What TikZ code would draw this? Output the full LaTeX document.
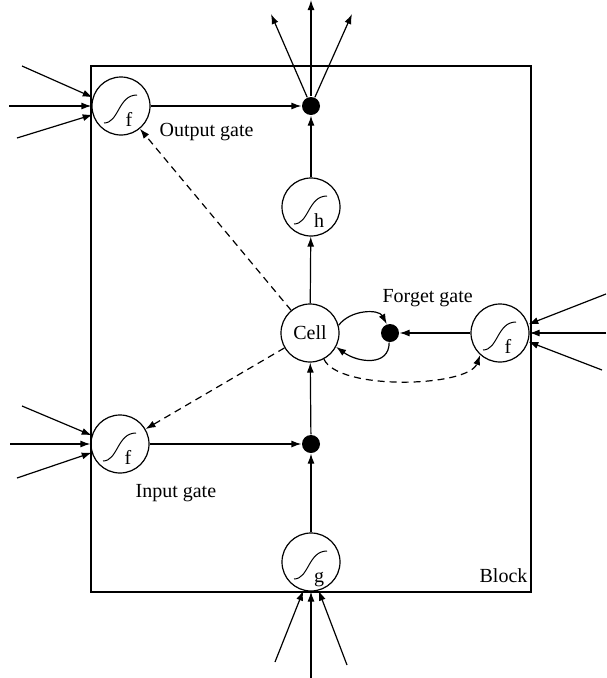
\documentclass[tikz,border=0pt]{standalone}
\usepackage{fontspec}
\setmainfont{Liberation Serif}
\usetikzlibrary{arrows.meta}
\newcommand\sigmark[2]{%
  \draw[line width=1pt] ([shift={(-17,17)}]#1.center) .. controls +(15,0) and +(-19,0) .. ([shift={(16,-11)}]#1.center);
  \node[lbl,anchor=base] at ([shift={(8,20)}]#1.center) {#2};}
\begin{document}
\begin{tikzpicture}[x=1pt,y=-1pt,line width=1.2pt,
  gate/.style={circle,draw,minimum size=58pt,inner sep=0pt},
  jdot/.style={circle,fill=black,minimum size=18pt,inner sep=0pt},
  arr/.style={-{Latex[length=10pt,width=7pt]}},
  dsh/.style={arr,dash pattern=on 7pt off 5pt},
  lbl/.style={font=\fontsize{20}{24}\selectfont,inner sep=0pt}]
\useasboundingbox (0,0) rectangle (606,678);
% block
\draw (91,66) rectangle (531,592);
\node[lbl,anchor=base west] (blk) at (479,582) {Block};
% nodes
\node[gate] (og) at (121,106) {};
\node[jdot] (tdot) at (311,106) {};
\node[gate] (hn) at (311,207) {};
\node[gate] (cell) at (310,333) {};
\node[lbl] at (cell.center) {Cell};
\node[jdot] (fdot) at (390,333) {};
\node[gate] (ff) at (500,333) {};
\node[gate] (ig) at (120,444) {};
\node[jdot] (idot) at (311,444) {};
\node[gate] (gn) at (311,562) {};
\sigmark{og}{f}
\sigmark{hn}{h}
\sigmark{ff}{f}
\sigmark{ig}{f}
\sigmark{gn}{g}
% labels
\node[lbl,anchor=base west] (ogl) at (159,136) {Output gate};
\node[lbl,anchor=base west] (igl) at (135,497) {Input gate};
\node[lbl,anchor=base west] (fgl) at (382,302) {Forget gate};
% free ends
\coordinate (o1) at (271,14);
\coordinate (o2) at (311,0);
\coordinate (o3) at (352,14);
\coordinate (a1) at (22,66);
\coordinate (a2) at (9,106);
\coordinate (a3) at (17,138);
\coordinate (b1) at (22,406);
\coordinate (b2) at (10,444);
\coordinate (b3) at (17,478);
\coordinate (c1) at (606,294);
\coordinate (c2) at (606,333);
\coordinate (c3) at (602,370);
\coordinate (d1) at (275,662);
\coordinate (d2) at (311,678);
\coordinate (d3) at (347,665);
% solid arrows
\draw[arr] (og) -- (tdot);
\draw[arr] (hn) -- (tdot);
\draw[arr] (cell) -- (hn);
\draw[arr] (ff) -- (fdot);
\draw[arr] (ig) -- (idot);
\draw[arr] (idot) -- (cell);
\draw[arr] (gn) -- (idot);
\draw[arr] (tdot) -- (o1);
\draw[arr] (tdot) -- (o2);
\draw[arr] (tdot) -- (o3);
\draw[arr] (a1) -- (og.163);
\draw[arr] (a2) -- (og.west);
\draw[arr] (a3) -- (og.197);
\draw[arr] (b1) -- (ig.163);
\draw[arr] (b2) -- (ig.west);
\draw[arr] (b3) -- (ig.197);
\draw[arr] (c1) -- (ff.17);
\draw[arr] (c2) -- (ff.east);
\draw[arr] (c3) -- (ff.-17);
\draw[arr] (d1) -- (gn.-105);
\draw[arr] (d2) -- (gn.south);
\draw[arr] (d3) -- (gn.-75);
% self loop through forget dot
\draw[arr] (cell.15) .. controls +(12,-16) and +(-8,-15) .. (fdot.110);
\draw[arr] (fdot.-95) .. controls +(0,24) and +(22,16) .. (cell.-28);
% dashed
\draw[dsh] (cell) -- (og);
\draw[dsh] (cell) -- (ig);
\draw[dsh] (cell.-62) .. controls +(15,32) and +(-12,32) .. (ff.-132);
\end{tikzpicture}
\end{document}
